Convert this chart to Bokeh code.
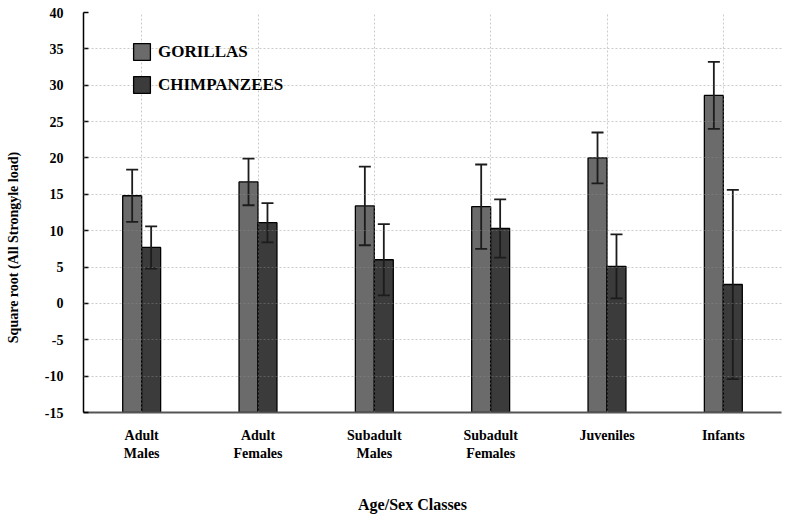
import numpy as np
from bokeh.plotting import figure
from bokeh.models import (Range1d, FixedTicker, Whisker, ColumnDataSource, Legend,
                          LegendItem, TeeHead, LinearAxis)
from bokeh.embed import file_html
from bokeh.resources import INLINE

# ---- data ----
categories = ["Adult\nMales", "Adult\nFemales", "Subadult\nMales",
              "Subadult\nFemales", "Juveniles", "Infants"]
gorilla_mean = [14.8, 16.7, 13.4, 13.3, 20.0, 28.6]
gorilla_err = [3.6, 3.2, 5.4, 5.8, 3.5, 4.6]
chimp_mean = [7.7, 11.1, 6.0, 10.3, 5.1, 2.6]
chimp_err = [2.9, 2.7, 4.9, 4.0, 4.4, 13.0]
series_names = ["GORILLAS", "CHIMPANZEES"]
y_ticks = [-15, -10, -5, 0, 5, 10, 15, 20, 25, 30, 35, 40]
y_title = "Square root (All Strongyle load)"
x_title = "Age/Sex Classes"

# ---- styling ----
FONT = "Liberation Serif"
BAR_W = 0.163
Y_MIN, Y_MAX = y_ticks[0], y_ticks[-1]
G_COLOR = "#6b6b6b"
C_COLOR = "#3b3b3b"
ERR_COLOR = "#1c1c1c"
NBSP = "\u00a0"
# trailing no-break spaces shift the centred axis titles off-centre
Y_TITLE_PAD = 20
X_TITLE_PAD = 10

idx = np.arange(len(categories))
g_mean = np.array(gorilla_mean)
g_err = np.array(gorilla_err)
c_mean = np.array(chimp_mean)
c_err = np.array(chimp_err)

src = ColumnDataSource(dict(
    xg=idx - BAR_W / 2, xc=idx + BAR_W / 2,
    g=g_mean, c=c_mean,
    g_up=g_mean + g_err, g_lo=g_mean - g_err,
    c_up=c_mean + c_err, c_lo=c_mean - c_err,
))

p = figure(width=788, height=516,
           x_range=Range1d(-0.5, len(categories) - 0.5),
           y_range=Range1d(Y_MIN, Y_MAX),
           output_backend="svg", toolbar_location=None,
           min_border_left=83, min_border_right=7,
           min_border_top=12, min_border_bottom=104)
p.outline_line_color = None
p.background_fill_color = "white"

rg = p.vbar(x="xg", top="g", bottom=Y_MIN, width=BAR_W, source=src,
            fill_color=G_COLOR, line_color="black", line_width=1.3)
rc = p.vbar(x="xc", top="c", bottom=Y_MIN, width=BAR_W, source=src,
            fill_color=C_COLOR, line_color="black", line_width=1.3)

for base, up, lo in (("xg", "g_up", "g_lo"), ("xc", "c_up", "c_lo")):
    w = Whisker(base=base, upper=up, lower=lo, source=src,
                line_color=ERR_COLOR, line_width=1.8, level="annotation",
                upper_head=TeeHead(size=12, line_width=1.8, line_color=ERR_COLOR),
                lower_head=TeeHead(size=12, line_width=1.8, line_color=ERR_COLOR))
    p.add_layout(w)

# axes
xa = p.xaxis[0]
xa.ticker = FixedTicker(ticks=[int(i) for i in idx])
xa.major_label_overrides = {int(i): c for i, c in zip(idx, categories)}
xa.major_tick_line_color = None
xa.minor_tick_line_color = None
xa.axis_line_color = "#555555"
xa.axis_line_width = 2
xa.major_label_text_font = FONT
xa.major_label_text_font_style = "bold"
xa.major_label_text_font_size = "14px"
xa.major_label_text_line_height = 1.2
xa.major_label_standoff = 9
xa.major_label_text_color = "black"

ya = p.yaxis[0]
ya.ticker = FixedTicker(ticks=y_ticks)
ya.major_label_overrides = {t: str(t) for t in y_ticks if t < 0}
ya.major_tick_in = 5
ya.major_tick_out = 0
ya.minor_tick_line_color = None
ya.axis_line_color = "black"
ya.axis_line_width = 1.5
ya.major_tick_line_width = 1.5
ya.major_label_text_font = FONT
ya.major_label_text_font_style = "bold"
ya.major_label_text_font_size = "14px"
ya.major_label_standoff = 20
ya.major_label_text_color = "black"


def title_axis(text, standoff, size):
    return LinearAxis(ticker=FixedTicker(ticks=[]),
                      axis_line_color=None, major_tick_line_color=None,
                      minor_tick_line_color=None, major_label_text_font_size="0px",
                      axis_label=text, axis_label_standoff=standoff,
                      axis_label_text_font=FONT, axis_label_text_font_style="bold",
                      axis_label_text_font_size=size, axis_label_text_color="black")


p.add_layout(title_axis(y_title + NBSP * Y_TITLE_PAD, 21, "14px"), "left")
p.add_layout(title_axis(x_title + NBSP * X_TITLE_PAD, 32, "16px"), "below")

# grids (drawn over the bars, semi-transparent)
p.xgrid.ticker = FixedTicker(ticks=[int(i) for i in idx])
p.ygrid.ticker = FixedTicker(ticks=y_ticks[1:-1])
for g in (p.xgrid[0], p.ygrid[0]):
    g.grid_line_color = "#8c8c8c"
    g.grid_line_alpha = 0.45
    g.grid_line_dash = "2 2"
    g.grid_line_width = 1
    g.level = "overlay"

legend = Legend(items=[LegendItem(label=series_names[0], renderers=[rg]),
                       LegendItem(label=series_names[1], renderers=[rc])],
                location=(48, 317), padding=0, margin=0,
                background_fill_alpha=0, border_line_alpha=0,
                glyph_width=21, glyph_height=21, spacing=12, label_standoff=6,
                label_text_font=FONT, label_text_font_style="bold",
                label_text_font_size="17px", label_text_color="black")
p.add_layout(legend)

open("out.html", "w").write(file_html(p, INLINE))
